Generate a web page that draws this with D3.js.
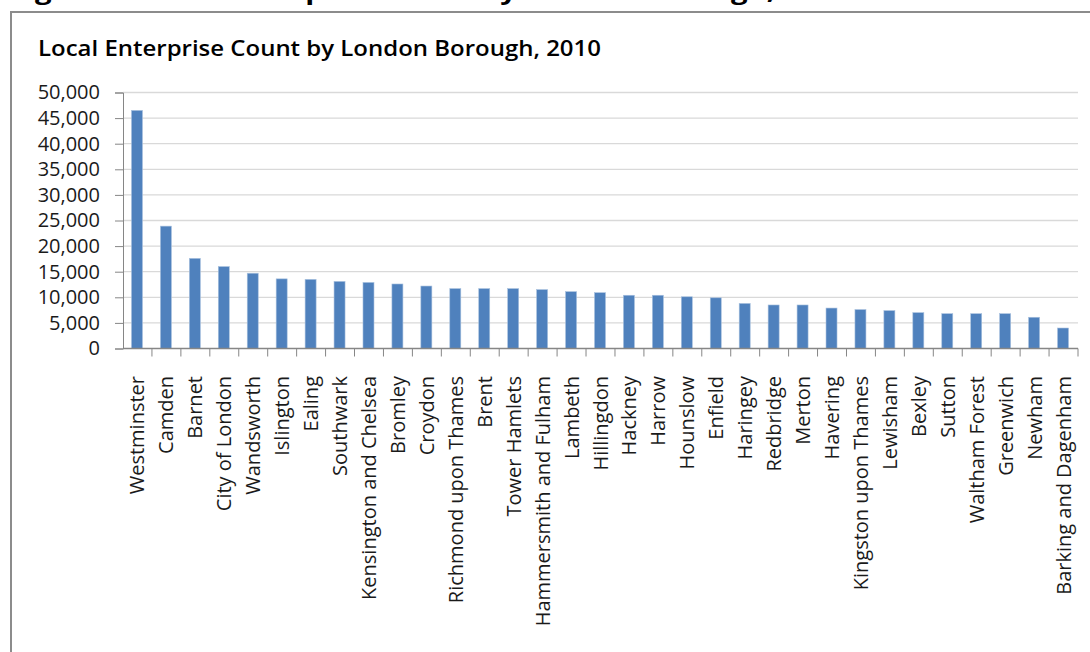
<!DOCTYPE html>
<html>
<head>
<meta charset="utf-8">
<script src="https://cdnjs.cloudflare.com/ajax/libs/d3/7.8.5/d3.min.js"></script>
<style>
	body { margin: 0; background: #fff; }
	svg { display: block; }
</style>
</head>
<body>
<svg class="barchart"></svg>
<script>
var boroughs = ["Westminster", "Camden", "Barnet", "City of London", "Wandsworth", "Islington",
	"Ealing", "Southwark", "Kensington and Chelsea", "Bromley", "Croydon", "Richmond upon Thames",
	"Brent", "Tower Hamlets", "Hammersmith and Fulham", "Lambeth", "Hillingdon", "Hackney",
	"Harrow", "Hounslow", "Enfield", "Haringey", "Redbridge", "Merton", "Havering",
	"Kingston upon Thames", "Lewisham", "Bexley", "Sutton", "Waltham Forest", "Greenwich",
	"Newham", "Barking and Dagenham"];

var enterprises = [46500, 23900, 17600, 16000, 14700, 13600,
	13500, 13100, 12900, 12600, 12200, 11700,
	11700, 11700, 11500, 11100, 10900, 10400,
	10400, 10100, 9900, 8800, 8500, 8500, 7900,
	7600, 7400, 7000, 6800, 6800, 6800,
	6100, 4000];

var yTicks = [0, 5000, 10000, 15000, 20000, 25000, 30000, 35000, 40000, 45000, 50000];

var width = 1090;
var height = 652;
var font = "'Open Sans', 'DejaVu Sans', sans-serif";

var svg = d3.select(".barchart")
	.attr("width", width)
	.attr("height", height);

// figure caption, mostly cut off by the top edge
svg.append("text")
	.attr("x", 10)
	.attr("y", -1)
	.attr("textLength", 840)
	.attr("lengthAdjust", "spacingAndGlyphs")
	.style("font-family", font)
	.style("font-weight", "bold")
	.style("font-size", "24px")
	.attr("fill", "#000")
	.text("Figure 5: Local Enterprise Count by London Borough, 2010");

// chart frame
svg.append("rect")
	.attr("x", 11)
	.attr("y", 12)
	.attr("width", 1200)
	.attr("height", 800)
	.attr("fill", "none")
	.attr("stroke", "#8c8c8c")
	.attr("stroke-width", 2);

svg.append("text")
	.attr("x", 38)
	.attr("y", 56)
	.attr("textLength", 563)
	.attr("lengthAdjust", "spacingAndGlyphs")
	.style("font-family", font)
	.style("font-weight", 600)
	.style("font-size", "21px")
	.attr("fill", "#000")
	.text("Local Enterprise Count by London Borough, 2010");

var x = d3.scaleBand()
	.domain(boroughs)
	.range([123, 1078])
	.padding(0);

var y = d3.scaleLinear()
	.domain([0, 50000])
	.range([348.5, 92.5]);

// gridlines
svg.append("g")
	.selectAll("line")
	.data(yTicks.slice(1))
	.enter()
	.append("line")
		.attr("x1", 123)
		.attr("x2", 1078)
		.attr("y1", function(d) { return y(d); })
		.attr("y2", function(d) { return y(d); })
		.attr("stroke", "#d9d9d9")
		.attr("stroke-width", 1.3);

// bars
var barW = x.bandwidth() * 0.38;
svg.append("g")
	.selectAll("rect")
	.data(enterprises)
	.enter()
	.append("rect")
		.attr("x", function(d, i) { return x(boroughs[i]) + x.bandwidth() / 2 - barW / 2 - 0.5; })
		.attr("width", barW)
		.attr("y", function(d) { return y(d); })
		.attr("height", function(d) { return y(0) - y(d); })
		.attr("fill", "#4f81bd")
		.attr("stroke", "#a7c0de")
		.attr("stroke-width", 0.6);

// y axis
var yAxis = svg.append("g")
	.attr("transform", "translate(123,0)")
	.call(d3.axisLeft(y)
		.tickValues(yTicks)
		.tickSize(8)
		.tickPadding(15)
		.tickFormat(d3.format(",")));

yAxis.selectAll("path, line").attr("stroke", "#868686");
yAxis.selectAll("text")
	.style("font-family", font)
	.style("font-size", "20px")
	.attr("fill", "#1a1a1a");

// x axis line and ticks at category boundaries
svg.append("line")
	.attr("x1", 123)
	.attr("x2", 1078)
	.attr("y1", y(0))
	.attr("y2", y(0))
	.attr("stroke", "#868686")
	.attr("stroke-width", 1.3);

svg.append("g")
	.selectAll("line")
	.data(boroughs)
	.enter()
	.append("line")
		.attr("x1", function(d) { return x(d) + x.bandwidth(); })
		.attr("x2", function(d) { return x(d) + x.bandwidth(); })
		.attr("y1", y(0))
		.attr("y2", y(0) + 8)
		.attr("stroke", "#868686");

svg.append("g")
	.selectAll("text")
	.data(boroughs)
	.enter()
	.append("text")
		.attr("transform", function(d) { return "translate(" + (x(d) + x.bandwidth() / 2) + ",376) rotate(-90)"; })
		.attr("text-anchor", "end")
		.attr("dy", "0.35em")
		.style("font-family", font)
		.style("font-size", "20px")
		.attr("fill", "#1a1a1a")
		.text(function(d) { return d; });
</script>
</body>
</html>
